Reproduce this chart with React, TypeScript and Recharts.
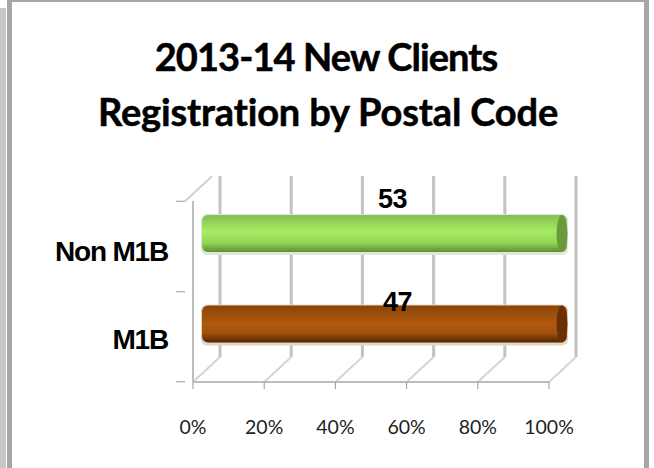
import { BarChart, Bar, XAxis, YAxis, CartesianGrid, Cell, LabelList } from "recharts";

const categories = ["Non M1B", "M1B"];
const values = [53, 47];
const xTicks = [0, 0.2, 0.4, 0.6, 0.8, 1];

const rows = categories.map((name, i) => ({ name, value: values[i] }));

// 3D look: the back wall sits up and to the right of the front axes
const DEPTH_X = 27;
const DEPTH_Y = 25;
const BAR_H = 37;
const BAND = 90;

const looks: Record<string, { grad: string; cap: string; shadow: string; dx: number; dy: number }> = {
  "Non M1B": { grad: "g-green", cap: "#6b9a3c", shadow: "#dfe8d8", dx: 22, dy: -16 },
  M1B: { grad: "g-brown", cap: "#6a3003", shadow: "#e4d4c8", dx: 27, dy: -4 },
};

function GridLine(props: any) {
  const { x1, y1, y2 } = props;
  return (
    <g>
      <line x1={x1 + DEPTH_X} x2={x1 + DEPTH_X} y1={y1 - DEPTH_Y} y2={y2 - DEPTH_Y} stroke="#c2c2c2" strokeWidth={3} />
      <line x1={x1} x2={x1 + DEPTH_X} y1={y2} y2={y2 - DEPTH_Y} stroke="#d4d4d4" strokeWidth={2} />
    </g>
  );
}

function Cylinder(props: any) {
  const { x, y, width, height, name } = props;
  const look = looks[name];
  const left = x + 9;
  const right = x + width + 18;
  const top = y + height / 2 - BAR_H / 2 - 12.5;
  return (
    <g>
      <rect x={left - 1} y={top - 1} width={right - left + 2} height={BAR_H + 4} rx={6} fill={look.shadow} />
      <rect x={left} y={top} width={right - left} height={BAR_H} rx={6} fill={`url(#${look.grad})`} />
      <ellipse cx={right - 5} cy={top + BAR_H / 2} rx={5.5} ry={BAR_H / 2} fill={look.cap} />
    </g>
  );
}

function BarLabel(props: any) {
  const { x, y, width, height, value, index } = props;
  const look = looks[categories[index]];
  const top = y + height / 2 - BAR_H / 2 - 12.5;
  return (
    <text
      x={x + width / 2 + look.dx - 0.5}
      y={top + look.dy}
      textAnchor="middle"
      dominantBaseline="central"
      fontFamily="'Liberation Sans', Arial, sans-serif"
      fontWeight={700}
      fontSize={27}
      letterSpacing={-0.5}
      fill="#000"
    >
      {value}
    </text>
  );
}

function CategoryTick(props: any) {
  const { x, y, payload, index } = props;
  const boundary = y - BAND / 2;
  return (
    <g>
      <line x1={x - 9} x2={x} y1={boundary} y2={boundary} stroke="#999" />
      {index === categories.length - 1 && (
        <line x1={x - 9} x2={x} y1={boundary + BAND} y2={boundary + BAND} stroke="#999" />
      )}
      {index === 0 && (
        <line x1={x} x2={x + DEPTH_X} y1={boundary} y2={boundary - DEPTH_Y} stroke="#d0d0d0" strokeWidth={2} />
      )}
      <text
        x={168}
        y={y + 5 - index * 2}
        textAnchor="end"
        dominantBaseline="central"
        fontFamily="'Liberation Sans', Arial, sans-serif"
        fontWeight={700}
        fontSize={28}
        letterSpacing={-1.2}
        fill="#000"
      >
        {payload.value}
      </text>
    </g>
  );
}

export default function App() {
  return (
    <div style={{ position: "absolute", left: 0, top: 0, width: 654, height: 468, background: "#fff", overflow: "hidden" }}>
      <div style={{ position: "absolute", left: 0, top: 8, width: 6, height: 460, background: "#c8c8c8" }} />
      <div style={{ position: "absolute", left: 7, top: 0, width: 5, height: 468, background: "#a6a6a6" }} />
      <div style={{ position: "absolute", left: 7, top: 0, width: 642, height: 2, background: "#a6a6a6" }} />
      <div style={{ position: "absolute", left: 644, top: 0, width: 5, height: 468, background: "#a6a6a6" }} />
      <div
        style={{
          position: "absolute",
          left: 12,
          top: 29,
          width: 632,
          textAlign: "center",
          fontFamily: "Lato, sans-serif",
          fontWeight: 700,
          fontSize: 38,
          lineHeight: "55px",
          WebkitTextStroke: "0.5px #000",
          color: "#000",
        }}
      >
        <span style={{ letterSpacing: -0.9, position: "relative", left: -2 }}>2013-14 New Clients</span>
        <br />
        <span style={{ letterSpacing: -0.15, position: "relative", left: 0 }}>Registration by Postal Code</span>
      </div>
      <BarChart
        width={654}
        height={468}
        data={rows}
        layout="vertical"
        stackOffset="expand"
        margin={{ top: 201, right: 105, bottom: 0, left: 0 }}
        style={{ position: "absolute", left: 0, top: 0 }}
      >
        <defs>
          <linearGradient id="g-green" x1="0" y1="0" x2="0" y2="1">
            <stop offset="0%" stopColor="#84bf50" />
            <stop offset="45%" stopColor="#a6ec62" />
            <stop offset="75%" stopColor="#93d455" />
            <stop offset="100%" stopColor="#5c8f35" />
          </linearGradient>
          <linearGradient id="g-brown" x1="0" y1="0" x2="0" y2="1">
            <stop offset="0%" stopColor="#8c4407" />
            <stop offset="50%" stopColor="#b05a0f" />
            <stop offset="75%" stopColor="#a0500b" />
            <stop offset="100%" stopColor="#4f2400" />
          </linearGradient>
        </defs>
        <CartesianGrid horizontal={false} vertical={(p: any) => <GridLine key={p.key} {...p} />} />
        <XAxis
          type="number"
          domain={[0, 1]}
          ticks={xTicks}
          interval={0}
          height={86}
          tickFormatter={(v: number) => `${Math.round(v * 100)}%`}
          tick={{ fill: "#222", fontSize: 19.5, fontFamily: "Lato, sans-serif" }}
          tickLine={{ stroke: "#999" }}
          tickSize={7}
          tickMargin={31}
          axisLine={{ stroke: "#bdbdbd", strokeWidth: 2 }}
        />
        <YAxis
          type="category"
          dataKey="name"
          width={193}
          tick={<CategoryTick />}
          tickLine={false}
          axisLine={{ stroke: "#bdbdbd", strokeWidth: 2 }}
        />
        <Bar dataKey="value" stackId="a" barSize={BAND} shape={<Cylinder />} isAnimationActive={false}>
          {rows.map((r) => (
            <Cell key={r.name} fill={looks[r.name].cap} />
          ))}
          <LabelList dataKey="value" content={<BarLabel />} />
        </Bar>
      </BarChart>
    </div>
  );
}
